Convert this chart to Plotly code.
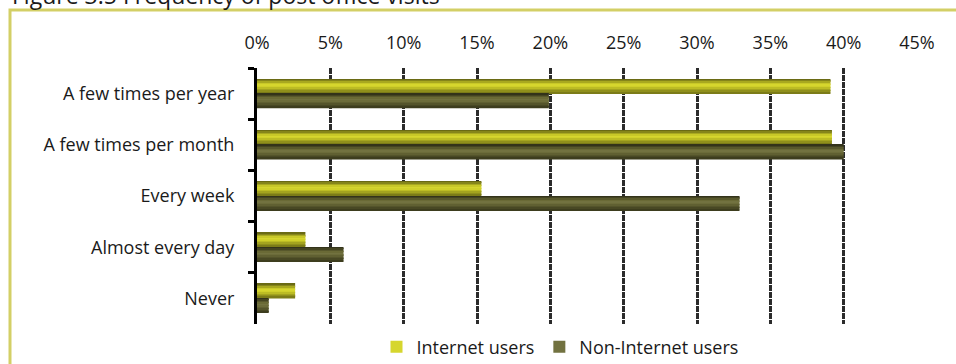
import plotly.graph_objects as go

# Frequency of post office visits, share of respondents (%)
categories = [
    "A few times per year",
    "A few times per month",
    "Every week",
    "Almost every day",
    "Never",
]
internet_users = [39.1, 39.2, 15.3, 3.3, 2.6]
non_internet_users = [19.9, 40.0, 32.9, 5.9, 0.8]
series_names = ["Internet users", "Non-Internet users"]
x_ticks = list(range(0, 50, 5))

# Horizontal shading stripes (top to bottom) to give each bar a tubular look
internet_shades = ["#6a6a14", "#85851a", "#a8a820", "#c8c828", "#d6d62e",
                   "#d0d02a", "#bcbc24", "#a4a41f", "#90901b", "#7c7c18"]
non_internet_shades = ["#33331a", "#444422", "#58582c", "#6a6a36", "#727240",
                       "#6c6c3a", "#606032", "#54542b", "#484824", "#3d3d1e"]

BAR_H = 0.285  # thickness of one bar in category units
fig = go.Figure()


def add_shaded_bar(values, shades, name, base_offset):
    n = len(shades)
    step = BAR_H / n
    for i, col in enumerate(shades):
        fig.add_trace(go.Bar(
            x=values,
            y=categories,
            orientation="h",
            offset=base_offset + i * step,
            width=step * 1.02,
            marker=dict(color=col, line=dict(width=0)),
            name=name,
            legendgroup=name,
            showlegend=(i == n // 2 - 1),
            hoverinfo="x+y+name",
        ))


add_shaded_bar(internet_users, internet_shades, series_names[0], -BAR_H)
add_shaded_bar(non_internet_users, non_internet_shades, series_names[1], 0.0)

font_family = "Open Sans"
L, R, T, B = 257, 39, 68, 40
PW, PH = 956 - L - R, 364 - T - B


def px_x(p):
    return (p - L) / PW


def px_y(p):
    return (364 - B - p) / PH


fig.update_layout(
    width=956,
    height=364,
    margin=dict(l=L, r=R, t=T, b=B, autoexpand=False),
    paper_bgcolor="white",
    plot_bgcolor="white",
    barmode="overlay",
    font=dict(family=font_family, size=18, color="#1a1a1a"),
    showlegend=True,
    legend=dict(
        orientation="h",
        x=px_x(560),
        xanchor="center",
        y=px_y(347),
        yanchor="middle",
        traceorder="normal",
        font=dict(size=18, color="#1a1a1a"),
        itemwidth=30,
        bgcolor="rgba(0,0,0,0)",
    ),
    xaxis=dict(
        side="top",
        range=[0, 45],
        tickvals=x_ticks,
        ticktext=[f"{v}%" for v in x_ticks],
        showgrid=True,
        gridcolor="#2b2b2b",
        gridwidth=2.5,
        griddash="6px,1px",
        zeroline=False,
        showline=False,
        ticks="",
        ticklabelstandoff=14,
        tickfont=dict(size=18, color="#1a1a1a"),
        fixedrange=True,
    ),
    yaxis=dict(
        type="category",
        categoryorder="array",
        categoryarray=categories,
        autorange="reversed",
        showgrid=False,
        zeroline=False,
        showline=True,
        linecolor="black",
        linewidth=3,
        ticks="outside",
        tickson="boundaries",
        ticklen=6,
        tickwidth=3,
        tickcolor="black",
        ticklabelstandoff=16,
        tickfont=dict(size=18, color="#1a1a1a"),
        fixedrange=True,
    ),
    shapes=[
        # frame around the figure panel
        dict(
            type="rect",
            xref="paper", yref="paper",
            x0=px_x(10), x1=px_x(990),
            y0=px_y(400), y1=px_y(10),
            line=dict(color="#d3cf66", width=3),
            fillcolor="rgba(0,0,0,0)",
            layer="below",
        )
    ],
    annotations=[
        dict(
            text="Figure 3.5 Frequency of post office visits",
            xref="paper", yref="paper",
            x=px_x(10), xanchor="left",
            y=px_y(-5), yanchor="middle",
            showarrow=False,
            font=dict(family=font_family, size=23, color="#1a1a1a"),
        )
    ],
)

fig.write_html("out.html")
